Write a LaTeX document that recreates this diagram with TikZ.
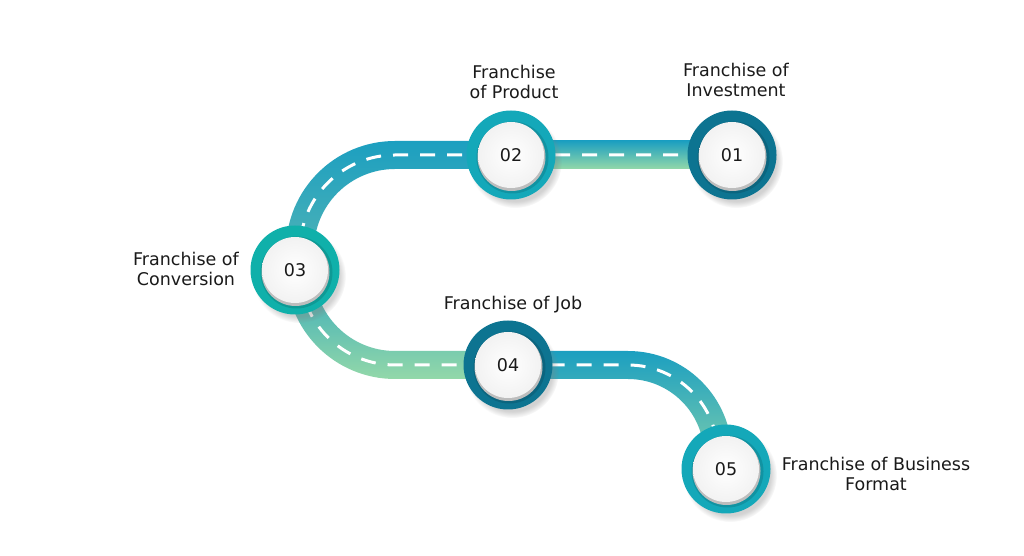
\documentclass[tikz,border=0pt]{standalone}
\usepackage{fontspec}
\setmainfont{DejaVu Sans}
\usetikzlibrary{shadows}
\definecolor{roadTeal}{HTML}{1C9FC0}
\definecolor{roadMid}{HTML}{55B5B5}
\definecolor{roadGreen}{HTML}{93D8A9}
\definecolor{ringDark}{HTML}{0D7491}
\definecolor{ringTeal}{HTML}{14A8B9}
\definecolor{ringGreen}{HTML}{10B0AA}
\definecolor{discFill}{HTML}{F2F2F2}
\definecolor{discShade}{HTML}{BDBDBD}
\definecolor{txt}{HTML}{1A1A1A}
\begin{document}
\begin{tikzpicture}[x=1pt,y=1pt,
  ring/.style={circle, minimum size=89pt, inner sep=0pt, fill=#1,
    circular drop shadow={shadow xshift=4pt, shadow yshift=-6pt, shadow scale=1.05, opacity=0.35}},
  ringshade/.style={circle, minimum size=72pt, inner sep=0pt, fill=black, opacity=0.12},
  discsh/.style={circle, minimum size=68pt, inner sep=0pt, fill=discShade},
  disc/.style={circle, minimum size=66pt, inner sep=0pt, inner color=white, outer color=discFill, text=txt,
    font=\fontsize{17.5}{20}\selectfont},
  lbl/.style={align=center, text=txt, font=\fontsize{17.5}{20}\selectfont},
  dashline/.style={white, line width=3pt, dash pattern=on 15pt off 12pt}]
\useasboundingbox (0,0) rectangle (1024,556);
\fill[white] (0,0) rectangle (1024,556);
% centres
\coordinate (p01) at (732,401);
\coordinate (p02) at (511,401);
\coordinate (p03) at (300,286);
\coordinate (p04) at (508,191);
\coordinate (p05) at (726,87);
% road segments
\shade[top color=roadTeal, bottom color=roadGreen] (511,387) rectangle (732,415);
\shade[top color=roadTeal, bottom color=roadMid]
  (511,415) -- (395,415) arc[start angle=90, end angle=180, radius=109] -- (286,285)
  -- (314,285) -- (314,306) arc[start angle=180, end angle=90, radius=81] -- (511,387) -- cycle;
\shade[top color=roadTeal!70!roadMid, middle color=roadMid, bottom color=roadGreen]
  (286,292) -- (286,286) arc[start angle=180, end angle=270, radius=109] -- (508,177)
  -- (508,205) -- (395,205) arc[start angle=270, end angle=180, radius=81] -- (314,292) -- cycle;
\shade[top color=roadTeal, bottom color=roadGreen!85!roadTeal]
  (508,205) -- (628,205) arc[start angle=90, end angle=0, radius=104] -- (732,87)
  -- (704,87) -- (704,101) arc[start angle=0, end angle=90, radius=76] -- (508,177) -- cycle;
% centre dashes
\draw[dashline] (p01) -- (395,401) arc[start angle=90, end angle=180, radius=95]
  -- (300,286) arc[start angle=180, end angle=270, radius=95]
  -- (628,191) arc[start angle=90, end angle=0, radius=90] -- (718,87);
% rings
\node[ring=ringDark]  (n01) at (p01) {};
\node[ring=ringTeal]  (n02) at (p02) {};
\node[ring=ringGreen] (n03) at ([xshift=-5pt]p03) {};
\node[ring=ringDark]  (n04) at (p04) {};
\node[ring=ringTeal]  (n05) at (p05) {};
\foreach \n/\t in {n01/01,n02/02,n03/03,n04/04,n05/05}{
  \node[ringshade] at ([xshift=1.5pt,yshift=-2.5pt]\n.center) {};
  \node[discsh] at ([xshift=0.5pt,yshift=-2pt]\n.center) {};
  \node[disc] (d\t) at (\n.center) {\t};
}
% labels
\node[lbl] (l02) at (514,474) {Franchise\\of Product};
\node[lbl] (l01) at (736,476) {Franchise of\\Investment};
\node[lbl] (l03) at (186,287) {Franchise of\\Conversion};
\node[lbl] (l04) at (513,251) {Franchise of Job};
\node[lbl] (l05) at (876,82) {Franchise of Business\\Format};
\end{tikzpicture}
\end{document}
